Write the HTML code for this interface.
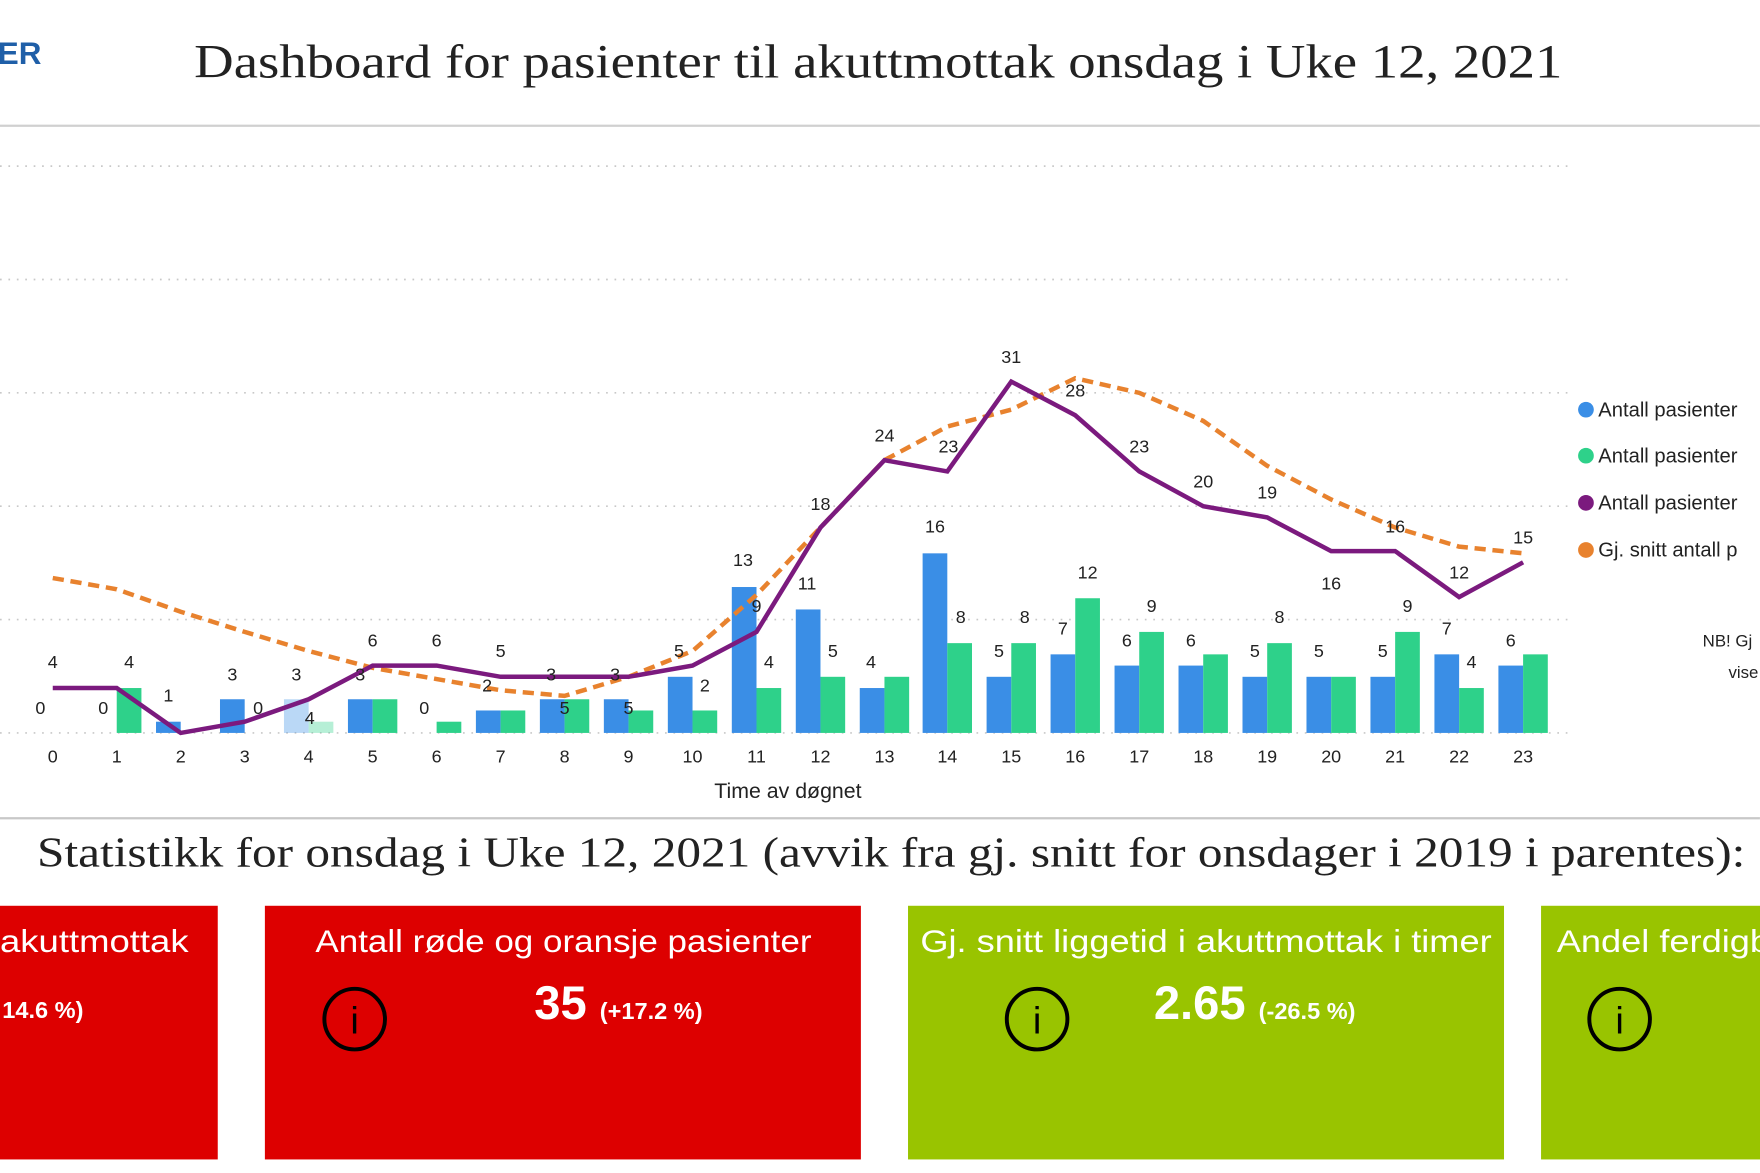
<!DOCTYPE html>
<html><head><meta charset="utf-8"><style>
html,body{margin:0;padding:0;background:#fff;width:1760px;height:1173px;overflow:hidden}
svg{display:block}
.s{font-family:"Liberation Serif",serif}
.a{font-family:"Liberation Sans",sans-serif}
.l text{font-family:"Liberation Sans",sans-serif;font-size:16px;text-anchor:middle;dominant-baseline:middle;fill:#222}
</style></head><body>
<svg width="1760" height="1173" viewBox="0 0 1760 1173">
<g transform="scale(1.1224)">
<text x="-2" y="57" class="a" font-size="28" font-weight="bold" fill="#1f5fa8">ER</text>
<text x="173" y="69" class="s" font-size="42" textLength="1219" lengthAdjust="spacingAndGlyphs" fill="#222">Dashboard for pasienter til akuttmottak onsdag i Uke 12, 2021</text>
<line x1="0" y1="112" x2="1568" y2="112" stroke="#d0d0d0" stroke-width="2"/>
<g stroke="#c8c8c8" stroke-width="1.5" stroke-dasharray="1.5,6">
<line x1="0" y1="148" x2="1398" y2="148"/><line x1="0" y1="249" x2="1398" y2="249"/><line x1="0" y1="350" x2="1398" y2="350"/><line x1="0" y1="451" x2="1398" y2="451"/><line x1="0" y1="552" x2="1398" y2="552"/><line x1="0" y1="653" x2="1398" y2="653"/>
</g>
<g fill="#3a8ee6">
<rect x="139" y="643" width="22" height="10"/><rect x="196" y="623" width="22" height="30"/><rect x="253" y="623" width="22" height="30" opacity=".35"/><rect x="310" y="623" width="22" height="30"/><rect x="424" y="633" width="22" height="20"/><rect x="481" y="623" width="22" height="30"/><rect x="538" y="623" width="22" height="30"/><rect x="595" y="603" width="22" height="50"/><rect x="652" y="523" width="22" height="130"/><rect x="709" y="543" width="22" height="110"/><rect x="766" y="613" width="22" height="40"/><rect x="822" y="493" width="22" height="160"/><rect x="879" y="603" width="22" height="50"/><rect x="936" y="583" width="22" height="70"/><rect x="993" y="593" width="22" height="60"/><rect x="1050" y="593" width="22" height="60"/><rect x="1107" y="603" width="22" height="50"/><rect x="1164" y="603" width="22" height="50"/><rect x="1221" y="603" width="22" height="50"/><rect x="1278" y="583" width="22" height="70"/><rect x="1335" y="593" width="22" height="60"/>
</g>
<g fill="#2ed18a">
<rect x="104" y="613" width="22" height="40"/><rect x="275" y="643" width="22" height="10" opacity=".35"/><rect x="332" y="623" width="22" height="30"/><rect x="389" y="643" width="22" height="10"/><rect x="446" y="633" width="22" height="20"/><rect x="503" y="623" width="22" height="30"/><rect x="560" y="633" width="22" height="20"/><rect x="617" y="633" width="22" height="20"/><rect x="674" y="613" width="22" height="40"/><rect x="731" y="603" width="22" height="50"/><rect x="788" y="603" width="22" height="50"/><rect x="844" y="573" width="22" height="80"/><rect x="901" y="573" width="22" height="80"/><rect x="958" y="533" width="22" height="120"/><rect x="1015" y="563" width="22" height="90"/><rect x="1072" y="583" width="22" height="70"/><rect x="1129" y="573" width="22" height="80"/><rect x="1186" y="603" width="22" height="50"/><rect x="1243" y="563" width="22" height="90"/><rect x="1300" y="613" width="22" height="40"/><rect x="1357" y="583" width="22" height="70"/>
</g>
<polyline fill="none" stroke="#e8822e" stroke-width="4" stroke-dasharray="10,6" points="47,515 104,525 161,545 218,563 275,580 332,595 389,605 446,615 503,620 560,603 617,580 674,530 731,470 788,410 844,380 901,365 958,337 1015,350 1072,375 1129,415 1186,445 1243,470 1300,487 1357,493"/>
<polyline fill="none" stroke="#7b1a7e" stroke-width="4" points="47,613 104,613 161,653 218,643 275,623 332,593 389,593 446,603 503,603 560,603 617,593 674,563 731,470 788,410 844,420 901,340 958,370 1015,420 1072,451 1129,461 1186,491 1243,491 1300,532 1357,501"/>
<g class="l">
<text x="47" y="591">4</text><text x="36" y="632">0</text><text x="115" y="591">4</text><text x="92" y="632">0</text><text x="150" y="621">1</text><text x="207" y="602">3</text><text x="230" y="632">0</text><text x="264" y="602">3</text><text x="276" y="641">4</text><text x="332" y="572">6</text><text x="321" y="602">3</text><text x="389" y="572">6</text><text x="378" y="632">0</text><text x="446" y="581">5</text><text x="434" y="612">2</text><text x="491" y="602">3</text><text x="503" y="632">5</text><text x="548" y="602">3</text><text x="560" y="632">5</text><text x="605" y="581">5</text><text x="628" y="612">2</text><text x="662" y="500">13</text><text x="674" y="541">9</text><text x="685" y="591">4</text><text x="731" y="450">18</text><text x="719" y="521">11</text><text x="742" y="581">5</text><text x="788" y="389">24</text><text x="776" y="591">4</text><text x="845" y="399">23</text><text x="833" y="470">16</text><text x="856" y="551">8</text><text x="901" y="319">31</text><text x="890" y="581">5</text><text x="913" y="551">8</text><text x="958" y="349">28</text><text x="947" y="561">7</text><text x="969" y="511">12</text><text x="1015" y="399">23</text><text x="1004" y="572">6</text><text x="1026" y="541">9</text><text x="1072" y="430">20</text><text x="1061" y="572">6</text><text x="1129" y="440">19</text><text x="1118" y="581">5</text><text x="1140" y="551">8</text><text x="1186" y="521">16</text><text x="1175" y="581">5</text><text x="1243" y="470">16</text><text x="1232" y="581">5</text><text x="1254" y="541">9</text><text x="1300" y="511">12</text><text x="1289" y="561">7</text><text x="1311" y="591">4</text><text x="1357" y="480">15</text><text x="1346" y="572">6</text>
</g>
<g class="l">
<text x="47" y="675">0</text><text x="104" y="675">1</text><text x="161" y="675">2</text><text x="218" y="675">3</text><text x="275" y="675">4</text><text x="332" y="675">5</text><text x="389" y="675">6</text><text x="446" y="675">7</text><text x="503" y="675">8</text><text x="560" y="675">9</text><text x="617" y="675">10</text><text x="674" y="675">11</text><text x="731" y="675">12</text><text x="788" y="675">13</text><text x="844" y="675">14</text><text x="901" y="675">15</text><text x="958" y="675">16</text><text x="1015" y="675">17</text><text x="1072" y="675">18</text><text x="1129" y="675">19</text><text x="1186" y="675">20</text><text x="1243" y="675">21</text><text x="1300" y="675">22</text><text x="1357" y="675">23</text>
<text x="702" y="706" style="font-size:19px">Time av døgnet</text>
</g>
<g class="a" font-size="18" fill="#222">
<circle cx="1413" cy="365" r="7" fill="#3a8ee6"/><text x="1424" y="371">Antall pasienter</text>
<circle cx="1413" cy="406" r="7" fill="#2ed18a"/><text x="1424" y="412">Antall pasienter</text>
<circle cx="1413" cy="448" r="7" fill="#7b1a7e"/><text x="1424" y="454">Antall pasienter</text>
<circle cx="1413" cy="490" r="7" fill="#e8822e"/><text x="1424" y="496">Gj. snitt antall p</text>
<text x="1517" y="576" font-size="15">NB! Gj</text><text x="1540" y="604" font-size="15">vise</text>
</g>
<line x1="0" y1="729" x2="1568" y2="729" stroke="#c8c8c8" stroke-width="2"/>
<text x="33" y="772" class="s" font-size="38" textLength="1522" lengthAdjust="spacingAndGlyphs" fill="#222">Statistikk for onsdag i Uke 12, 2021 (avvik fra gj. snitt for onsdager i 2019 i parentes):</text>
<rect x="0" y="807" width="194" height="226" fill="#dd0000"/>
<rect x="236" y="807" width="531" height="226" fill="#dd0000"/>
<rect x="809" y="807" width="531" height="226" fill="#99c400"/>
<rect x="1373" y="807" width="200" height="226" fill="#99c400"/>
<g class="a" fill="#fff" font-size="28">
<text x="0" y="848" textLength="168" lengthAdjust="spacingAndGlyphs">akuttmottak</text>
<text x="281" y="848" textLength="442" lengthAdjust="spacingAndGlyphs">Antall røde og oransje pasienter</text>
<text x="820" y="848" textLength="509" lengthAdjust="spacingAndGlyphs">Gj. snitt liggetid i akuttmottak i timer</text>
<text x="1387" y="848" textLength="190" lengthAdjust="spacingAndGlyphs">Andel ferdigb</text>
<text x="2" y="907" font-size="21" font-weight="bold">14.6 %)</text>
<text x="476" y="908" font-size="42" font-weight="bold">35 <tspan font-size="21">(+17.2 %)</tspan></text>
<text x="1028" y="908" font-size="42" font-weight="bold">2.65 <tspan font-size="21">(-26.5 %)</tspan></text>
</g>
<g fill="none" stroke="#000" stroke-width="3.5">
<circle cx="316" cy="908" r="27"/><circle cx="924" cy="908" r="27"/><circle cx="1443" cy="908" r="27"/>
</g>
<g class="a" font-size="34" text-anchor="middle" fill="#000">
<text x="316" y="921">i</text><text x="924" y="921">i</text><text x="1443" y="921">i</text>
</g>
</g>
</svg>
</body></html>
